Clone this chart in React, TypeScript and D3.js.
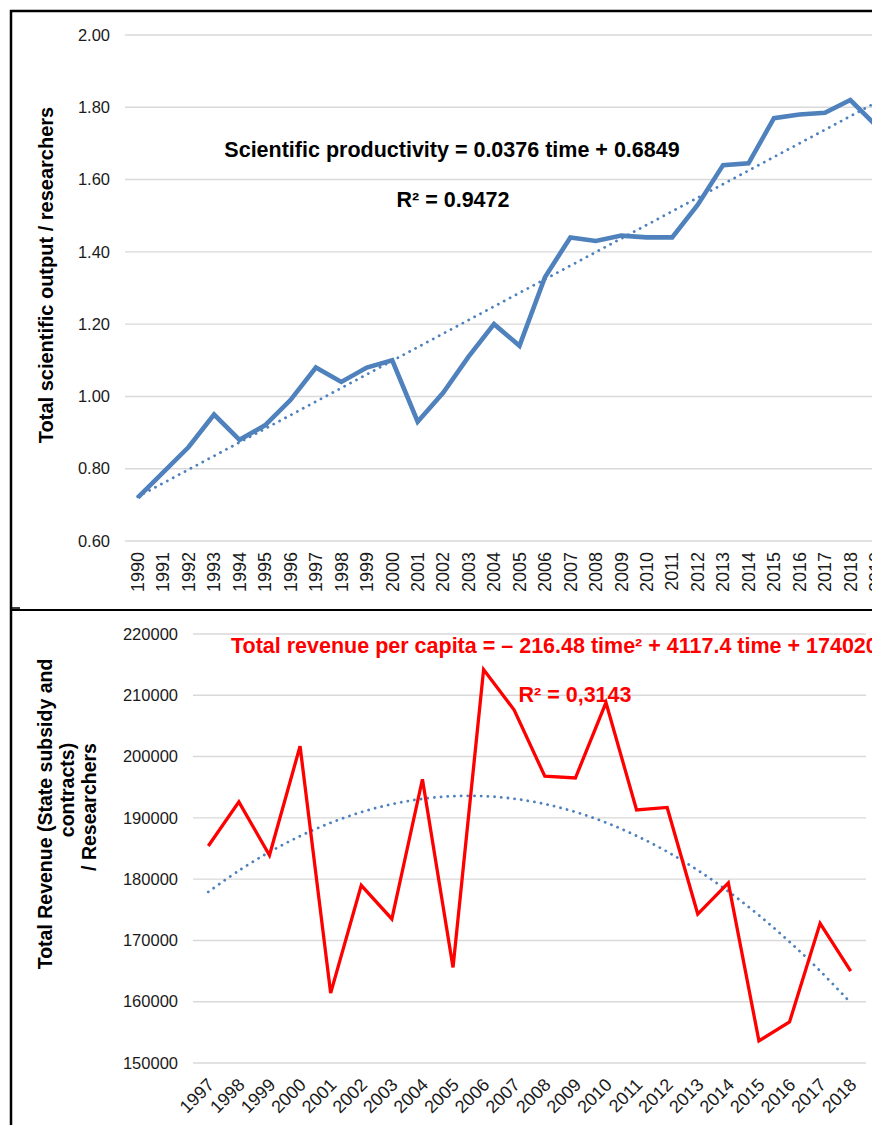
import * as d3 from "d3";

// top chart: scientific productivity 1990-2019
const yearsTop = d3.range(1990, 2020).map(String);
const productivity = [
  0.72, 0.79, 0.86, 0.95, 0.88, 0.92, 0.99, 1.08, 1.04, 1.08,
  1.1, 0.93, 1.01, 1.11, 1.2, 1.14, 1.33, 1.44, 1.43, 1.445,
  1.44, 1.44, 1.53, 1.64, 1.645, 1.77, 1.78, 1.785, 1.82, 1.75,
];
const ticksTop = [0.6, 0.8, 1.0, 1.2, 1.4, 1.6, 1.8, 2.0];
const linCoef = [0.0376, 0.6849]; // slope, intercept (from chart label)

// bottom chart: revenue per researcher 1997-2018
const yearsBot = d3.range(1997, 2019).map(String);
const revenue = [
  185400, 192600, 183900, 201700, 161400, 179000, 173500, 196300, 165600, 214200,
  207600, 196800, 196500, 208800, 191300, 191700, 174300, 179400, 153600, 156700,
  172800, 165000,
];
const ticksBot = [150000, 160000, 170000, 180000, 190000, 200000, 210000, 220000];
const quadCoef = [-216.48, 4117.4, 174020]; // a t² + b t + c (from chart label)

const FONT = "'Liberation Sans', Arial, sans-serif";
const BLUE = "#4F81BD";
const GRID = "#D9D9D9";
const TXT = "#1a1a1a";

export default function App() {
  const W = 872;
  const H = 1125;

  const xTop = d3.scaleBand().domain(yearsTop).range([125, 125 + 30 * 25.45]);
  const yTop = d3.scaleLinear().domain([0.6, 2.0]).range([541, 35]);
  const cxT = (d: string) => (xTop(d) ?? 0) + xTop.bandwidth() / 2;

  const xBot = d3.scaleBand().domain(yearsBot).range([193, 866]);
  const yBot = d3.scaleLinear().domain([150000, 220000]).range([1063, 634]);
  const cxB = (d: string) => (xBot(d) ?? 0) + xBot.bandwidth() / 2;

  const lineTop = d3
    .line<number>()
    .x((_, i) => cxT(yearsTop[i]))
    .y((d) => yTop(d));
  const trendTop = yearsTop.map((_, i) => linCoef[0] * (i + 1) + linCoef[1]);

  const lineBot = d3
    .line<number>()
    .x((_, i) => cxB(yearsBot[i]))
    .y((d) => yBot(d));
  const trendBot = yearsBot.map((_, i) => {
    const t = i + 1;
    return quadCoef[0] * t * t + quadCoef[1] * t + quadCoef[2];
  });
  const lineBotTrend = d3
    .line<number>()
    .x((_, i) => cxB(yearsBot[i]))
    .y((d) => yBot(d))
    .curve(d3.curveCatmullRom);

  return (
    <svg
      width={W}
      height={H}
      style={{ position: "absolute", left: 0, top: 0, background: "#fff" }}
      fontFamily={FONT}
    >
      <rect width={W} height={H} fill="#fff" />

      {/* ---- top chart ---- */}
      <g>
        {ticksTop.map((t) => (
          <g key={t}>
            <line x1={125} x2={W} y1={yTop(t)} y2={yTop(t)} stroke={GRID} strokeWidth={1.4} />
            <text
              x={110}
              y={yTop(t)}
              dy="0.35em"
              textAnchor="end"
              fontSize={16.5}
              fill={TXT}
            >
              {t.toFixed(2)}
            </text>
          </g>
        ))}
        {yearsTop.map((d) => (
          <text
            key={d}
            transform={`translate(${cxT(d)},552) rotate(-90)`}
            dy="0.35em"
            textAnchor="end"
            fontSize={18}
            fill={TXT}
          >
            {d}
          </text>
        ))}
        <path
          d={lineTop(trendTop) ?? ""}
          fill="none"
          stroke={BLUE}
          strokeWidth={2.8}
          strokeDasharray="0.1 6.6"
          strokeLinecap="round"
        />
        <path
          d={lineTop(productivity) ?? ""}
          fill="none"
          stroke={BLUE}
          strokeWidth={4.6}
          strokeLinejoin="miter"
        />
        <text x={452} y={157} textAnchor="middle" fontSize={21.5} fontWeight="bold" fill="#000">
          Scientific productivity = 0.0376 time + 0.6849
        </text>
        <text x={453} y={207} textAnchor="middle" fontSize={21.5} fontWeight="bold" fill="#000">
          R² = 0.9472
        </text>
        <text
          transform="translate(53,275) rotate(-90)"
          textAnchor="middle"
          fontSize={20}
          fontWeight="bold"
          fill="#000"
        >
          Total scientific output / researchers
        </text>
      </g>

      {/* ---- bottom chart ---- */}
      <g>
        {ticksBot.map((t) => (
          <g key={t}>
            <line x1={193} x2={866} y1={yBot(t)} y2={yBot(t)} stroke={GRID} strokeWidth={1.4} />
            <text
              x={178}
              y={yBot(t)}
              dy="0.35em"
              textAnchor="end"
              fontSize={16.5}
              fill={TXT}
            >
              {t}
            </text>
          </g>
        ))}
        {yearsBot.map((d) => (
          <text
            key={d}
            transform={`translate(${cxB(d) + 7},1086) rotate(-45)`}
            textAnchor="end"
            fontSize={18}
            fill={TXT}
          >
            {d}
          </text>
        ))}
        <path
          d={lineBotTrend(trendBot) ?? ""}
          fill="none"
          stroke={BLUE}
          strokeWidth={2.8}
          strokeDasharray="0.1 6.6"
          strokeLinecap="round"
        />
        <path
          d={lineBot(revenue) ?? ""}
          fill="none"
          stroke="#FF0000"
          strokeWidth={3.3}
          strokeLinejoin="miter"
        />
        <text x={231} y={653} fontSize={21.5} fontWeight="bold" fill="#FF0000">
          Total revenue per capita = – 216.48 time² + 4117.4 time + 174020
        </text>
        <text x={575} y={702} textAnchor="middle" fontSize={21.5} fontWeight="bold" fill="#FF0000">
          R² = 0,3143
        </text>
        <g transform="rotate(-90)" fontSize={19.5} fontWeight="bold" fill="#000" textAnchor="middle">
          <text x={-814} y={52}>Total Revenue (State subsidy and</text>
          <text x={-790} y={74}>contracts)</text>
          <text x={-807} y={96}>/ Researchers</text>
        </g>
      </g>

      {/* ---- frame ---- */}
      <line x1={11} x2={11} y1={10} y2={H} stroke="#000" strokeWidth={2.5} />
      <line x1={10} x2={W} y1={11} y2={11} stroke="#000" strokeWidth={2.5} />
      <line x1={10} x2={W} y1={610} y2={610} stroke="#000" strokeWidth={2} />
      <line x1={10} x2={20} y1={608} y2={608} stroke="#000" strokeWidth={1.5} />
    </svg>
  );
}
